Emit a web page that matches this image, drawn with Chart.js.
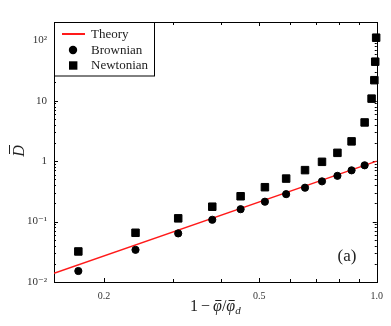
<!DOCTYPE html>
<html>
<head>
<meta charset="utf-8">
<script src="https://cdn.jsdelivr.net/npm/chart.js@4.4.1/dist/chart.umd.min.js"></script>
<style>
  html, body { margin: 0; padding: 0; background: #fff; }
  canvas { display: block; }
</style>
</head>
<body>
<canvas id="diffChart" width="391" height="326" style="width:391px;height:326px"></canvas>
<script>
// x = 1 - phi/phi_d, y = D bar
const xBrownian = [0.172, 0.241, 0.310, 0.379, 0.448, 0.517, 0.586, 0.655, 0.724, 0.793, 0.862, 0.931];
const yBrownian = [0.0152, 0.034, 0.0637, 0.107, 0.160, 0.213, 0.284, 0.363, 0.462, 0.570, 0.703, 0.852];

const xNewtonian = [0.172, 0.241, 0.310, 0.379, 0.448, 0.517, 0.586, 0.655, 0.724, 0.793, 0.862, 0.931, 0.970, 0.986, 0.991, 0.9965];
const yNewtonian = [0.032, 0.0652, 0.113, 0.176, 0.262, 0.370, 0.514, 0.709, 0.973, 1.37, 2.12, 4.36, 10.8, 21.8, 44.1, 110];

const xTheory = [0.149, 1.0];
const yTheory = [0.0139, 1.0];

const xTickValues = [0.2, 0.5, 1.0];
const xTickLabels = ['0.2', '0.5', '1.0'];
const xMinorTicks = [0.3, 0.4, 0.6, 0.7, 0.8, 0.9];
const yTickValues = [0.01, 0.1, 1, 10, 100];
const yTickLabels = ['10⁻²', '10⁻¹', '1', '10', '10²'];

const SERIF = '"Liberation Serif", "DejaVu Serif", serif';

const toPoints = (xs, ys) => xs.map((x, i) => ({ x: x, y: ys[i] }));

// 枠と内向きの目盛り
const framePlugin = {
    id: 'frame',
    beforeDatasetsDraw(chart) {
        const { ctx, chartArea: a, scales } = chart;
        const sx = scales.x, sy = scales.y;
        ctx.save();
        ctx.strokeStyle = '#000';
        ctx.lineWidth = 1;
        ctx.strokeRect(Math.round(a.left) + 0.5, Math.round(a.top) + 0.5,
                       Math.round(a.right - a.left), Math.round(a.bottom - a.top));

        const tick = (x1, y1, x2, y2) => {
            ctx.beginPath(); ctx.moveTo(x1, y1); ctx.lineTo(x2, y2); ctx.stroke();
        };
        // x ticks
        xTickValues.concat(xMinorTicks).forEach(v => {
            const len = xMinorTicks.includes(v) ? 3 : 4;
            const px = Math.round(sx.getPixelForValue(v)) + 0.5;
            tick(px, a.bottom, px, a.bottom - len);
            tick(px, a.top, px, a.top + len);
        });
        // y ticks (decades + minor)
        for (let d = -2; d <= 2; d++) {
            for (let m = 1; m <= 9; m++) {
                const v = m * Math.pow(10, d);
                if (v > sy.max) continue;
                const len = m === 1 ? 4 : 2;
                const py = Math.round(sy.getPixelForValue(v)) + 0.5;
                tick(a.left, py, a.left + len, py);
                tick(a.right, py, a.right - len, py);
            }
        }
        ctx.restore();
    },
    afterDraw(chart) {
        const { ctx, chartArea: a } = chart;
        const ds = chart.data.datasets;
        ctx.save();

        // legend box
        ctx.fillStyle = '#fff';
        ctx.fillRect(a.left, a.top, 100, 54);
        ctx.strokeStyle = '#000';
        ctx.lineWidth = 1;
        ctx.strokeRect(Math.round(a.left) + 0.5, Math.round(a.top) + 0.5, 100, 53.5);

        ctx.font = '13px ' + SERIF;
        ctx.textBaseline = 'middle';
        ctx.textAlign = 'left';
        const rows = [a.top + 12, a.top + 28, a.top + 43.5];
        // Theory
        ctx.strokeStyle = ds[0].borderColor;
        ctx.lineWidth = 2;
        ctx.beginPath(); ctx.moveTo(a.left + 8, rows[0]); ctx.lineTo(a.left + 31, rows[0]); ctx.stroke();
        // Brownian
        ctx.fillStyle = '#000';
        ctx.beginPath(); ctx.arc(a.left + 19, rows[1], 4.2, 0, Math.PI * 2); ctx.fill();
        // Newtonian
        ctx.fillRect(a.left + 15, rows[2] - 4.2, 8.4, 8.4);
        ctx.fillStyle = '#222';
        ds.forEach((d, i) => ctx.fillText(d.label, a.left + 37, rows[i] + 0.5));

        // (a)
        ctx.font = '17px ' + SERIF;
        ctx.textAlign = 'center';
        ctx.fillText('(a)', 347, 257);

        // x title: 1 − φ̄/φ̄_d  (bars drawn as short strokes)
        const base = 311;
        const parts = [
            { t: '1', f: '16px ' + SERIF, dy: 0, gap: 3 },
            { t: '−', f: '16px ' + SERIF, dy: 0, gap: 3 },
            { t: 'φ', f: 'italic 16px ' + SERIF, dy: 0, gap: 0, bar: true },
            { t: '/', f: '16px ' + SERIF, dy: 0, gap: 0 },
            { t: 'φ', f: 'italic 16px ' + SERIF, dy: 0, gap: 0, bar: true },
            { t: 'd', f: 'italic 11px ' + SERIF, dy: 3, gap: 0 }
        ];
        let x = 190;
        ctx.textAlign = 'left';
        ctx.textBaseline = 'alphabetic';
        ctx.strokeStyle = '#222';
        ctx.lineWidth = 1;
        parts.forEach(p => {
            ctx.font = p.f;
            ctx.fillText(p.t, x, base + p.dy);
            const w = ctx.measureText(p.t).width;
            if (p.bar) {
                ctx.beginPath();
                ctx.moveTo(x + w * 0.25, base - 10.5);
                ctx.lineTo(x + w * 0.95, base - 10.5);
                ctx.stroke();
            }
            x += w + p.gap;
        });

        // y title: D̄
        ctx.translate(19, 151);
        ctx.rotate(-Math.PI / 2);
        ctx.font = 'italic 16px ' + SERIF;
        ctx.textAlign = 'center';
        ctx.textBaseline = 'alphabetic';
        ctx.fillText('D', 0, 5);
        ctx.beginPath();
        ctx.moveTo(-3, -9.5);
        ctx.lineTo(6, -9.5);
        ctx.stroke();
        ctx.restore();
    }
};

new Chart(document.getElementById('diffChart'), {
    type: 'scatter',
    data: {
        datasets: [
            {
                type: 'line',
                label: 'Theory',
                data: toPoints(xTheory, yTheory),
                borderColor: '#ff1a1a',
                borderWidth: 1.4,
                pointRadius: 0,
                order: 3
            },
            {
                label: 'Brownian',
                data: toPoints(xBrownian, yBrownian),
                pointStyle: 'circle',
                pointRadius: 3.6,
                backgroundColor: '#000',
                borderColor: '#000',
                borderWidth: 1,
                clip: false,
                order: 2
            },
            {
                label: 'Newtonian',
                data: toPoints(xNewtonian, yNewtonian),
                pointStyle: 'rect',
                pointRadius: 5.3,
                backgroundColor: '#000',
                borderColor: '#000',
                borderWidth: 1,
                clip: false,
                order: 1
            }
        ]
    },
    options: {
        responsive: false,
        animation: false,
        devicePixelRatio: 1,
        layout: { padding: { top: 22, right: 11, left: 0, bottom: 0 } },
        scales: {
            x: {
                type: 'logarithmic',
                min: 0.149,
                max: 1.0,
                afterBuildTicks: s => { s.ticks = xTickValues.map(v => ({ value: v })); },
                afterFit: s => { s.height = 44; },
                grid: { display: false, drawTicks: false },
                border: { display: false },
                ticks: {
                    autoSkip: false,
                    maxRotation: 0,
                    padding: 8,
                    color: '#333',
                    font: { family: SERIF, size: 10 },
                    callback: v => xTickLabels[xTickValues.indexOf(v)]
                }
            },
            y: {
                type: 'logarithmic',
                min: 0.01,
                max: 200,
                afterBuildTicks: s => { s.ticks = yTickValues.map(v => ({ value: v })); },
                afterFit: s => { s.width = 54; },
                grid: { display: false, drawTicks: false },
                border: { display: false },
                ticks: {
                    autoSkip: false,
                    padding: 7,
                    color: '#333',
                    font: { family: SERIF, size: 11 },
                    callback: v => yTickLabels[yTickValues.indexOf(v)]
                }
            }
        },
        plugins: {
            legend: { display: false },
            tooltip: { enabled: false }
        }
    },
    plugins: [framePlugin]
});
</script>
</body>
</html>
